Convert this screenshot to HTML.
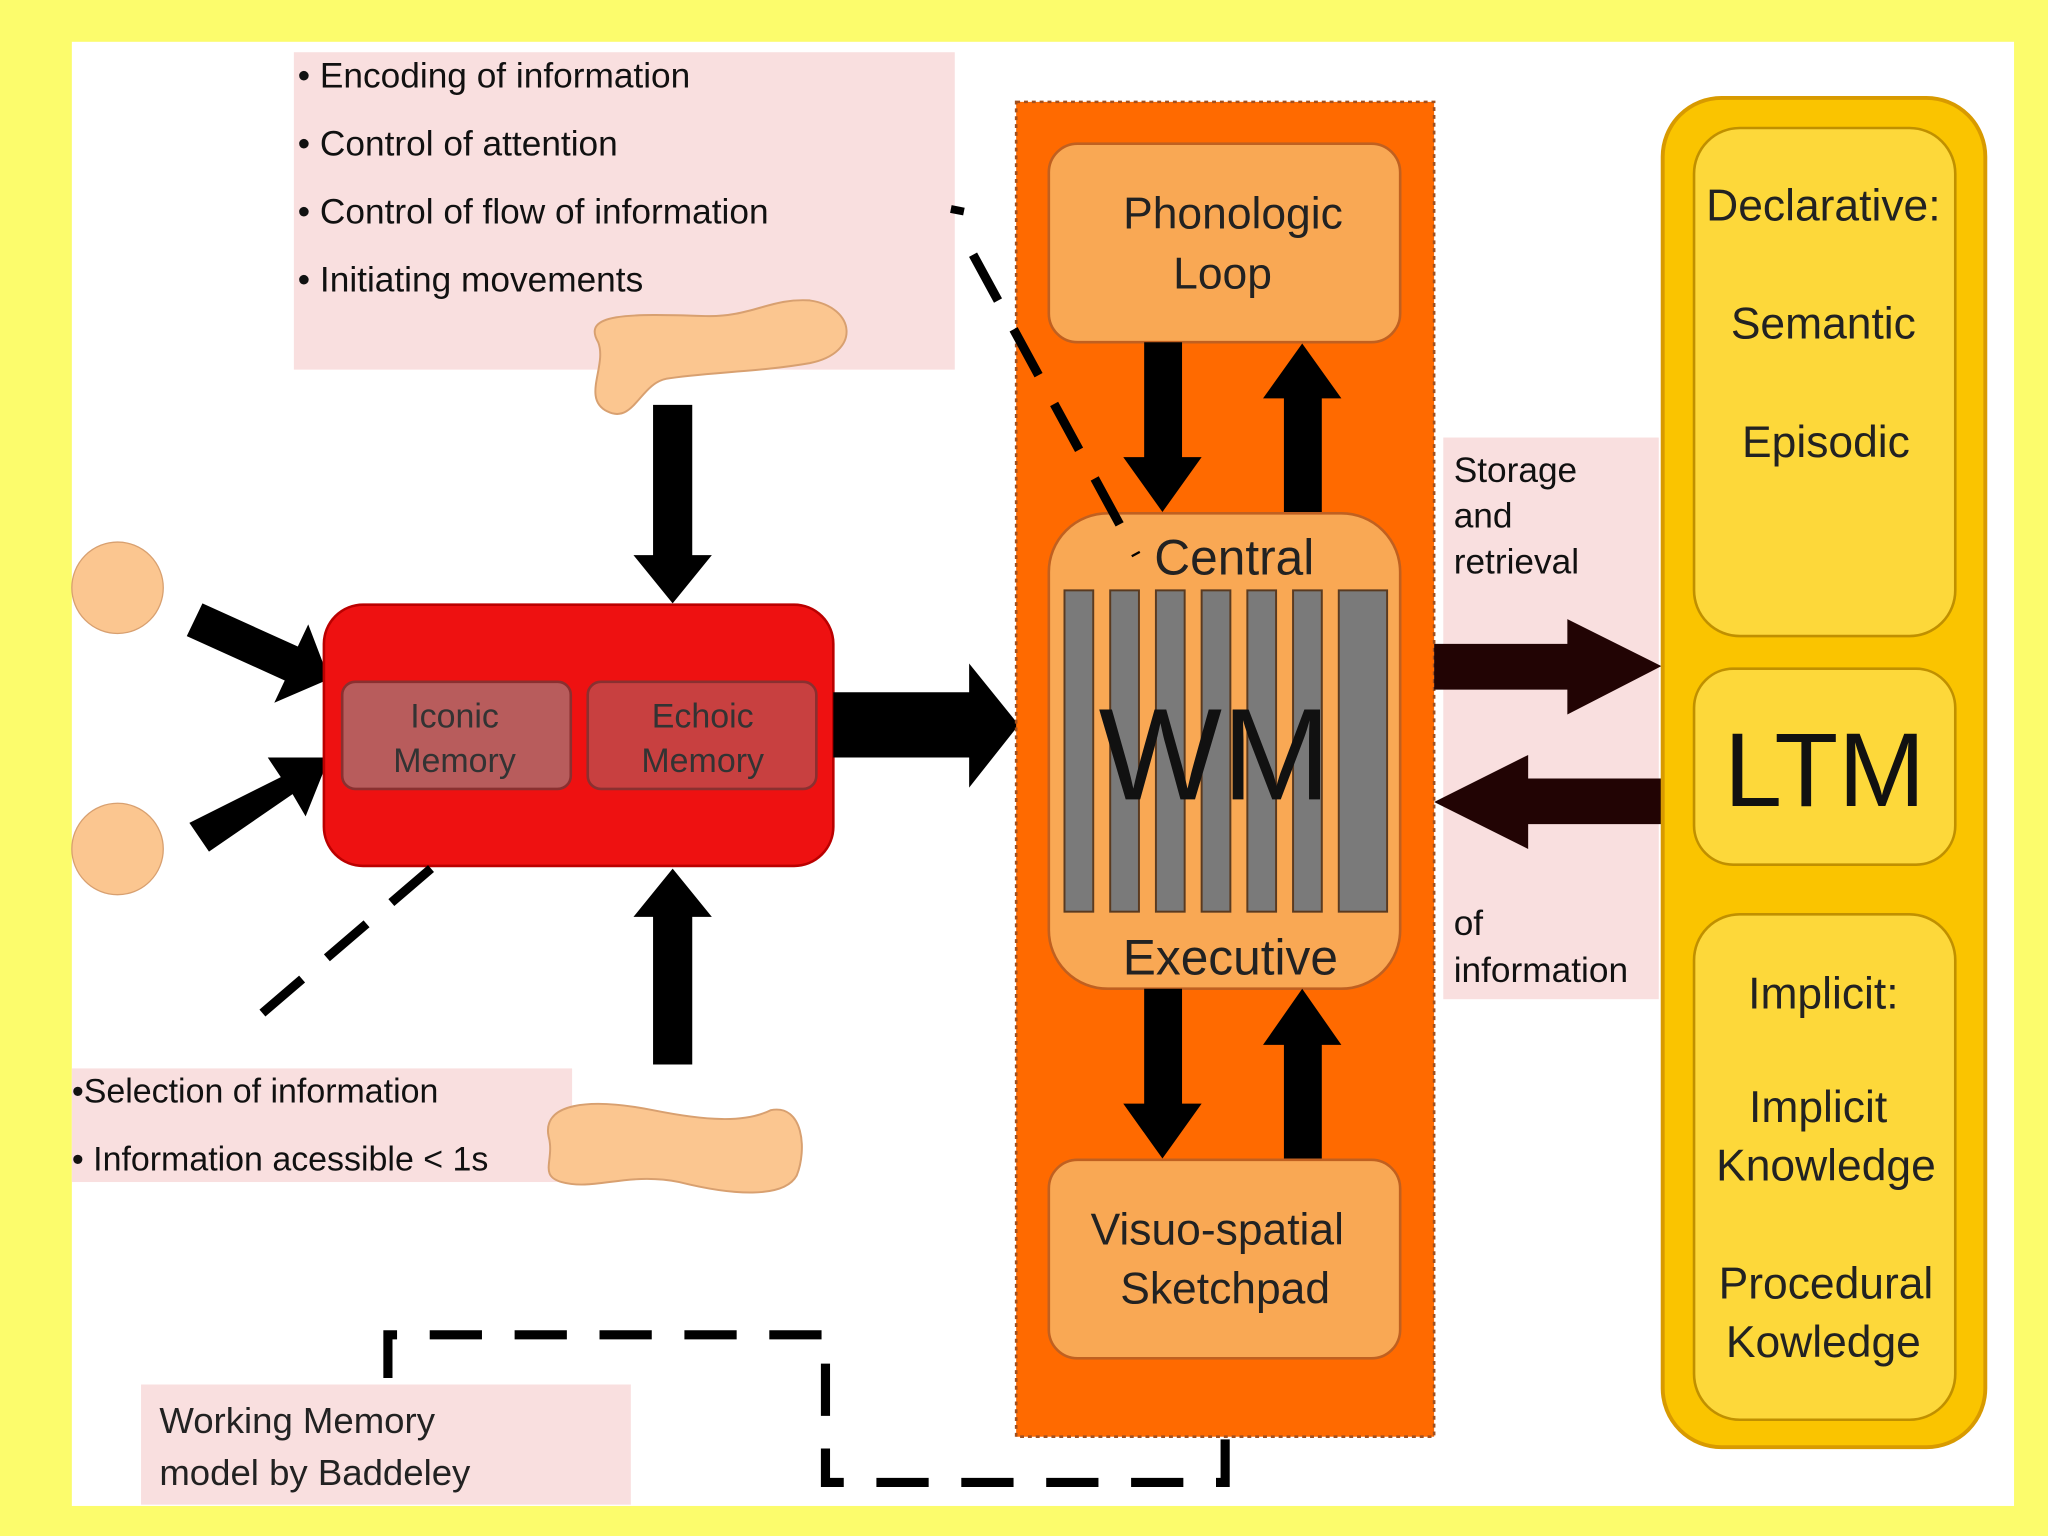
<!DOCTYPE html>
<html><head><meta charset="utf-8"><style>
html,body{margin:0;padding:0;background:#fcfc6c;}
svg{display:block;}
text{font-family:"Liberation Sans",sans-serif;}
</style></head><body>
<svg width="2048" height="1536" viewBox="0 0 1568 1176" xmlns="http://www.w3.org/2000/svg">
<rect x="0" y="0" width="1568" height="1176" fill="#fcfc6c"/>
<rect x="55" y="32" width="1487" height="1121" fill="#ffffff"/>

<rect x="225" y="40" width="506" height="243" fill="#f9dfdf"/>
<g font-size="27" fill="#111">
<text x="228" y="67">• Encoding of information</text>
<text x="228" y="119">• Control of attention</text>
<text x="228" y="171">• Control of flow of information</text>
<text x="228" y="223">• Initiating movements</text>
</g>
<path d="M458,262 C445,240 480,240 540,242 C575,243 590,228 620,230 C655,235 660,270 620,278 C580,285 540,285 510,290 C490,294 485,325 465,315 C445,305 465,280 458,262Z" fill="#fbc690" stroke="#d8a070" stroke-width="1.5"/>

<polygon points="500,310 530,310 530,425 545,425 515,462 485,425 500,425" fill="#000"/>
<polygon points="500,815 530,815 530,702 545,702 515,665 485,702 500,702" fill="#000"/>

<circle cx="90" cy="450" r="35" fill="#fbc690" stroke="#d8a070"/>
<circle cx="90" cy="650" r="35" fill="#fbc690" stroke="#d8a070"/>
<polygon points="143,487 155,462 228,495 236,478 252,520 210,538 218,521" fill="#000"/>
<polygon points="145,630 160,652 224,608 234,625 252,580 205,580 215,595" fill="#000"/>

<rect x="248" y="463" width="390" height="200" rx="30" fill="#ee1111" stroke="#b00" stroke-width="2"/>
<rect x="262" y="522" width="175" height="82" rx="10" fill="#b85c5c" stroke="#8a3030" stroke-width="2"/>
<rect x="450" y="522" width="175" height="82" rx="10" fill="#c84040" stroke="#8a3030" stroke-width="2"/>
<g font-size="26" fill="#333" text-anchor="middle">
<text x="348" y="557">Iconic</text><text x="348" y="591">Memory</text>
<text x="538" y="557">Echoic</text><text x="538" y="591">Memory</text>
</g>
<polygon points="638,530 742,530 742,508 780,555 742,603 742,580 638,580" fill="#000"/>

<line x1="330" y1="665" x2="190" y2="785" stroke="#000" stroke-width="7" stroke-dasharray="40,25"/>

<rect x="55" y="818" width="383" height="87" fill="#f9dfdf"/>
<g font-size="26" fill="#111">
<text x="55" y="844">•Selection of information</text>
<text x="55" y="896">• Information acessible &lt; 1s</text>
</g>
<path d="M420,870 C415,845 450,840 500,850 C540,858 570,860 590,850 C615,845 618,880 610,900 C600,918 560,915 520,905 C480,897 455,912 430,905 C412,900 425,888 420,870Z" fill="#fbc690" stroke="#d8a070" stroke-width="1.5"/>

<rect x="778" y="78" width="320" height="1022" fill="#ff6a00" stroke="#a05020" stroke-width="2" stroke-dasharray="3,3"/>
<rect x="803" y="110" width="269" height="152" rx="22" fill="#f9a854" stroke="#c06020" stroke-width="2"/>
<g font-size="34" fill="#222" text-anchor="middle">
<text x="944" y="175">Phonologic</text><text x="936" y="221">Loop</text>
</g>
<polygon points="876,262 905,262 905,350 920,350 890,392 860,350 876,350" fill="#000"/>
<polygon points="983,392 1012,392 1012,305 1027,305 997,263 967,305 983,305" fill="#000"/>

<rect x="803" y="393" width="269" height="364" rx="45" fill="#f9a854" stroke="#c06020" stroke-width="2"/>
<g fill="#7a7a7a" stroke="#5a3a20" stroke-width="1.5">
<rect x="815" y="452" width="22" height="246"/>
<rect x="850" y="452" width="22" height="246"/>
<rect x="885" y="452" width="22" height="246"/>
<rect x="920" y="452" width="22" height="246"/>
<rect x="955" y="452" width="22" height="246"/>
<rect x="990" y="452" width="22" height="246"/>
<rect x="1025" y="452" width="37" height="246"/>
</g>
<text x="930" y="612" font-size="100" fill="#111" text-anchor="middle">WM</text>
<text x="945" y="440" font-size="38" fill="#222" text-anchor="middle">Central</text>
<text x="942" y="746" font-size="38" fill="#222" text-anchor="middle">Executive</text>
<polygon points="876,757 905,757 905,845 920,845 890,887 860,845 876,845" fill="#000"/>
<polygon points="983,887 1012,887 1012,800 1027,800 997,757 967,800 983,800" fill="#000"/>

<rect x="803" y="888" width="269" height="152" rx="22" fill="#f9a854" stroke="#c06020" stroke-width="2"/>
<g font-size="34" fill="#222" text-anchor="middle">
<text x="932" y="953">Visuo-spatial</text><text x="938" y="998">Sketchpad</text>
</g>

<rect x="1105" y="335" width="165" height="430" fill="#f9dfdf"/>
<g font-size="27" fill="#111">
<text x="1113" y="369">Storage</text><text x="1113" y="404">and</text><text x="1113" y="439">retrieval</text>
<text x="1113" y="716">of</text><text x="1113" y="752">information</text>
</g>
<polygon points="1098,493 1200,493 1200,474 1272,510 1200,547 1200,528 1098,528" fill="#220404"/>
<polygon points="1272,596 1170,596 1170,578 1098,614 1170,650 1170,631 1272,631" fill="#220404"/>

<rect x="1273" y="75" width="247" height="1033" rx="45" fill="#fac400" stroke="#d89a00" stroke-width="3"/>
<rect x="1297" y="98" width="200" height="389" rx="35" fill="#fdd83a" stroke="#c09000" stroke-width="2"/>
<rect x="1297" y="512" width="200" height="150" rx="30" fill="#fdd83a" stroke="#c09000" stroke-width="2"/>
<rect x="1297" y="700" width="200" height="387" rx="35" fill="#fdd83a" stroke="#c09000" stroke-width="2"/>
<g font-size="34" fill="#222" text-anchor="middle">
<text x="1396" y="169">Declarative:</text>
<text x="1396" y="259">Semantic</text>
<text x="1398" y="350">Episodic</text>
<text x="1396" y="772">Implicit:</text>
<text x="1392" y="859">Implicit</text>
<text x="1398" y="904">Knowledge</text>
<text x="1398" y="994">Procedural</text>
<text x="1396" y="1039">Kowledge</text>
</g>
<text x="1397" y="617" font-size="80" fill="#111" text-anchor="middle">LTM</text>

<path d="M297,1055 L297,1022 L632,1022 L632,1135 L938,1135 L938,1100" fill="none" stroke="#000" stroke-width="7" stroke-dasharray="40,25"/>
<rect x="108" y="1060" width="375" height="92" fill="#f9dfdf"/>
<g font-size="28" fill="#222">
<text x="122" y="1097">Working Memory</text><text x="122" y="1137">model by Baddeley</text>
</g>

<line x1="728" y1="160" x2="738" y2="162" stroke="#000" stroke-width="6"/>
<line x1="745" y1="195" x2="870" y2="425" stroke="#000" stroke-width="7" stroke-dasharray="40,25"/>
</svg>
</body></html>
